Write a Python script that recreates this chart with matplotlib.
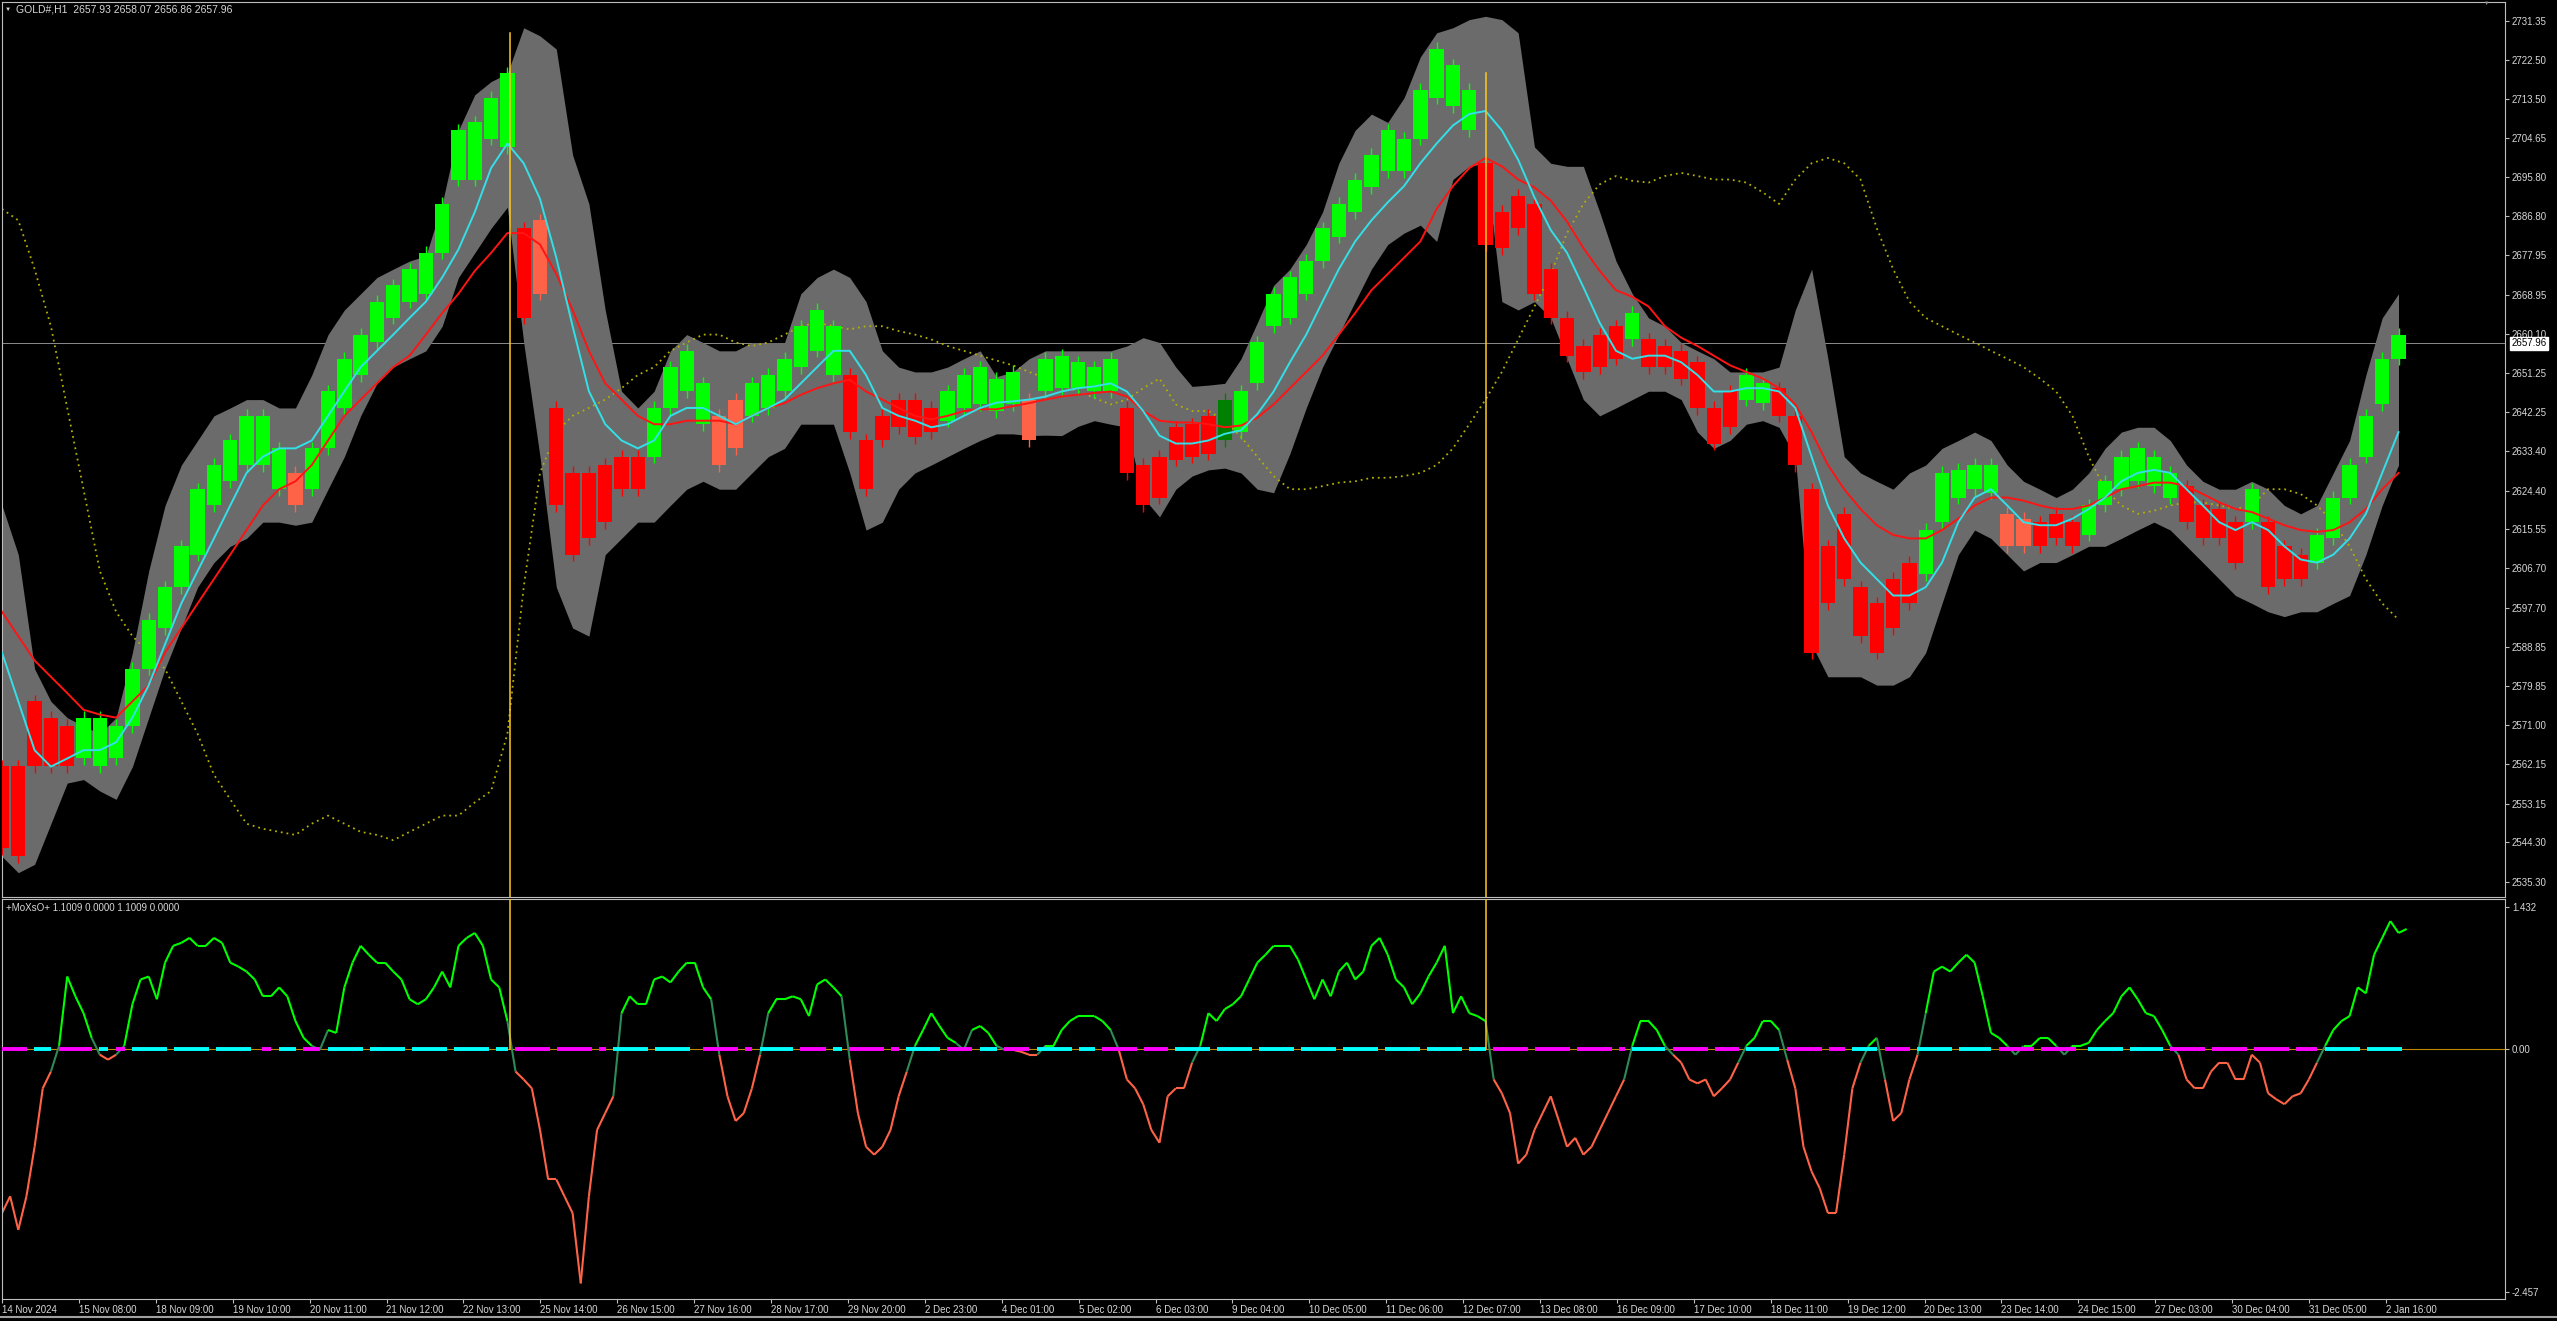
import numpy as np
import matplotlib.pyplot as plt
import matplotlib.transforms as mtransforms
from matplotlib.collections import LineCollection

plt.rcParams['font.family'] = ['Liberation Sans', 'DejaVu Sans']

# --- данные (шаг ~5.3 бара H1) ---
candle_high = [
    2561.6, 2561.6, 2576.4, 2572.7, 2570.8, 2572.7, 2572.7, 2570.8, 2583.8, 2595.0,
    2602.4, 2611.7, 2624.7, 2630.2, 2635.8, 2641.4, 2641.4, 2634.0, 2628.4, 2634.0,
    2647.0, 2654.4, 2659.9, 2667.4, 2671.1, 2674.8, 2678.5, 2689.65, 2706.4, 2708.2,
    2713.8, 2719.35, 2684.1, 2685.9, 2643.2, 2628.4, 2628.4, 2630.2, 2632.1, 2632.1,
    2643.2, 2652.5, 2656.2, 2648.8, 2641.4, 2645.1, 2648.8, 2650.7, 2654.4, 2661.8,
    2665.5, 2661.8, 2650.7, 2635.8, 2641.4, 2645.1, 2645.1, 2643.2, 2647.0, 2650.7,
    2652.5, 2649.9, 2651.4, 2645.1, 2654.4, 2655.1, 2653.6, 2652.5, 2654.4, 2643.2,
    2630.2, 2632.1, 2638.8, 2639.5, 2641.4, 2645.1, 2647.0, 2658.1, 2669.2, 2672.9,
    2676.65, 2684.1, 2689.65, 2695.2, 2700.8, 2706.4, 2704.5, 2715.6, 2724.9, 2721.2,
    2715.6, 2698.9, 2687.8, 2691.5, 2689.65, 2674.8, 2663.7, 2657.3, 2659.9, 2661.8,
    2664.8, 2658.8, 2657.3, 2656.2, 2653.6, 2643.2, 2647.0, 2650.7, 2648.8, 2647.7,
    2641.4, 2624.7, 2611.7, 2619.1, 2602.4, 2598.7, 2604.25, 2608.0, 2615.4, 2628.4,
    2629.1, 2630.2, 2630.2, 2619.1, 2618.0, 2617.2, 2619.1, 2617.2, 2621.0, 2626.5,
    2632.1, 2634.0, 2632.1, 2628.4, 2625.4, 2621.0, 2620.2, 2617.2, 2624.7, 2617.2,
    2611.7, 2609.8, 2614.3, 2622.8, 2630.2, 2641.4, 2654.4, 2659.9,
]
candle_low = [
    2543.0, 2541.1, 2561.6, 2561.6, 2561.6, 2563.4, 2561.6, 2563.4, 2570.8, 2583.8,
    2593.1, 2602.4, 2609.8, 2621.0, 2626.5, 2630.2, 2630.2, 2624.7, 2621.0, 2624.7,
    2634.0, 2643.2, 2650.7, 2658.1, 2663.7, 2667.4, 2669.2, 2678.5, 2695.2, 2695.2,
    2704.5, 2702.6, 2663.7, 2669.2, 2621.0, 2609.8, 2613.5, 2617.2, 2624.7, 2624.7,
    2632.1, 2643.2, 2647.0, 2639.5, 2630.2, 2634.0, 2641.4, 2643.2, 2647.0, 2652.5,
    2656.2, 2650.7, 2637.7, 2624.7, 2635.8, 2638.8, 2636.6, 2637.7, 2640.3, 2643.2,
    2644.0, 2642.5, 2644.0, 2635.8, 2647.0, 2647.7, 2647.7, 2647.0, 2647.0, 2628.4,
    2621.0, 2622.8, 2631.4, 2632.1, 2632.8, 2635.8, 2637.7, 2648.8, 2661.8, 2663.7,
    2669.2, 2676.65, 2682.2, 2687.8, 2693.4, 2697.1, 2697.1, 2704.5, 2713.8, 2711.9,
    2706.4, 2680.4, 2679.6, 2684.1, 2669.2, 2663.7, 2655.1, 2651.4, 2652.5, 2654.4,
    2658.8, 2652.5, 2652.5, 2649.9, 2643.2, 2635.1, 2638.8, 2645.1, 2644.3, 2641.4,
    2630.2, 2587.5, 2598.7, 2604.25, 2591.25, 2587.5, 2593.1, 2598.7, 2605.4, 2617.2,
    2622.8, 2624.7, 2623.9, 2611.7, 2611.7, 2611.7, 2613.5, 2611.7, 2614.3, 2621.0,
    2624.7, 2626.5, 2625.4, 2622.8, 2617.2, 2613.5, 2613.5, 2608.0, 2617.2, 2602.4,
    2604.25, 2604.25, 2608.0, 2613.5, 2622.8, 2632.1, 2644.0, 2654.4,
]
# G - рост, R - падение, S - лососевый, D - тёмно-зелёный
candle_kind = ("RRRRRGGGGG" "GGGGGGGGSG" "GGGGGGGGGG" "GGRSRRRRRR" "GGGGSSGGGG"
               "GGRRRRRRGG" "GGGSGGGGGR" "RRRRRDGGGG" "GGGGGGGGGG" "GRRRRRRRRR"
               "GRRRRRRGGR" "RRRRRRRRGG" "GGGSSRRRGG" "GGGGRRRRGR" "RRGGGGGG")

band_hi = [
    2621.0, 2609.8, 2583.8, 2576.4, 2572.7, 2570.8, 2569.0, 2572.7, 2587.5, 2606.1,
    2621.0, 2630.2, 2635.8, 2641.4, 2643.2, 2645.1, 2645.1, 2643.2, 2643.2, 2650.7,
    2659.9, 2665.5, 2669.2, 2672.9, 2674.8, 2676.65, 2677.8, 2689.65, 2706.4, 2714.5,
    2717.5, 2719.35, 2729.75, 2727.9, 2724.9, 2700.8, 2689.65, 2665.5, 2647.0, 2643.2,
    2647.0, 2656.2, 2659.9, 2658.1, 2656.2, 2656.2, 2658.1, 2658.1, 2658.1, 2669.2,
    2672.9, 2674.8, 2672.9, 2667.4, 2656.2, 2652.5, 2651.4, 2651.4, 2652.5, 2654.4,
    2656.2, 2650.3, 2651.4, 2654.4, 2656.2, 2656.2, 2656.2, 2656.2, 2656.2, 2657.3,
    2659.2, 2658.1, 2652.5, 2648.1, 2648.4, 2648.8, 2654.4, 2662.6, 2671.1, 2674.8,
    2680.4, 2687.8, 2698.9, 2706.4, 2710.1, 2708.2, 2713.8, 2723.1, 2728.6, 2729.75,
    2731.6, 2732.35, 2731.6, 2728.6, 2702.6, 2698.9, 2698.2, 2698.2, 2687.8, 2676.65,
    2669.2, 2663.7, 2661.8, 2658.1, 2656.2, 2654.4, 2651.4, 2651.4, 2651.4, 2652.5,
    2665.5, 2674.8, 2654.4, 2632.1, 2628.4, 2626.5, 2624.7, 2628.4, 2630.2, 2634.0,
    2635.8, 2637.7, 2635.8, 2630.2, 2626.5, 2624.7, 2622.8, 2624.7, 2628.4, 2634.0,
    2637.7, 2638.8, 2638.8, 2635.8, 2630.2, 2626.5, 2624.7, 2624.7, 2626.5, 2624.7,
    2621.0, 2619.1, 2621.0, 2628.4, 2635.8, 2650.7, 2663.7, 2669.2,
]
band_lo = [
    2541.1, 2537.4, 2539.3, 2548.55, 2557.8, 2558.6, 2556.0, 2554.1, 2561.55, 2572.7,
    2583.8, 2593.1, 2602.4, 2608.0, 2611.7, 2613.5, 2617.2, 2617.2, 2616.5, 2617.2,
    2624.7, 2632.1, 2641.4, 2648.8, 2652.5, 2654.4, 2656.2, 2661.8, 2672.9, 2678.5,
    2684.1, 2688.9, 2658.1, 2632.1, 2602.4, 2593.1, 2591.25, 2609.8, 2613.5, 2617.2,
    2617.2, 2621.0, 2624.7, 2626.5, 2624.7, 2624.7, 2628.4, 2632.1, 2634.0, 2639.5,
    2639.5, 2639.5, 2628.4, 2615.4, 2617.2, 2624.7, 2628.4, 2630.2, 2632.1, 2634.0,
    2635.8, 2637.3, 2637.3, 2636.9, 2637.0, 2636.9, 2639.0, 2640.3, 2639.5, 2638.8,
    2622.8, 2618.4, 2624.7, 2627.7, 2629.1, 2629.5, 2628.4, 2624.7, 2623.9, 2632.8,
    2643.2, 2652.5, 2659.9, 2667.4, 2674.8, 2680.4, 2683.0, 2684.8, 2681.1, 2695.2,
    2698.2, 2698.9, 2667.4, 2665.5, 2667.4, 2663.7, 2654.4, 2645.1, 2641.4, 2643.2,
    2645.1, 2647.0, 2647.0, 2645.1, 2637.7, 2634.0, 2635.8, 2639.5, 2640.3, 2638.8,
    2632.1, 2589.4, 2582.0, 2582.0, 2582.0, 2580.1, 2580.1, 2582.0, 2587.5, 2598.7,
    2609.8, 2615.4, 2613.5, 2609.8, 2606.1, 2608.0, 2608.0, 2609.8, 2611.7, 2611.7,
    2613.5, 2615.4, 2617.2, 2615.4, 2611.7, 2608.0, 2604.25, 2600.5, 2598.7, 2596.8,
    2595.7, 2596.8, 2596.8, 2598.7, 2600.5, 2609.8, 2621.0, 2630.2,
]
ma_fast = [
    2587.5, 2576.4, 2565.3, 2561.55, 2563.4, 2565.3, 2565.3, 2567.1, 2572.7, 2580.1,
    2589.4, 2598.7, 2606.1, 2613.5, 2621.0, 2628.4, 2632.1, 2634.0, 2634.0, 2635.8,
    2641.4, 2647.0, 2652.5, 2656.2, 2659.9, 2663.7, 2667.4, 2672.9, 2679.3, 2687.8,
    2697.8, 2703.4, 2698.9, 2690.8, 2677.4, 2661.8, 2647.0, 2639.5, 2635.8, 2634.0,
    2635.8, 2641.4, 2643.2, 2643.2, 2641.4, 2639.5, 2641.4, 2643.2, 2645.1, 2648.8,
    2652.5, 2656.2, 2656.2, 2650.7, 2643.2, 2641.4, 2640.3, 2638.8, 2639.5, 2641.4,
    2643.2, 2644.4, 2644.7, 2645.1, 2645.8, 2646.95, 2647.7, 2648.1, 2648.8, 2646.95,
    2642.5, 2636.9, 2635.1, 2635.1, 2635.8, 2637.3, 2638.1, 2641.8, 2646.95, 2653.6,
    2659.9, 2667.4, 2674.8, 2681.1, 2685.9, 2690.0, 2693.7, 2698.9, 2703.4, 2707.5,
    2710.1, 2710.8, 2706.4, 2699.7, 2691.1, 2683.7, 2678.5, 2670.7, 2662.6, 2656.2,
    2654.4, 2655.1, 2655.1, 2653.6, 2650.7, 2646.95, 2646.95, 2647.7, 2647.7, 2646.95,
    2643.2, 2632.1, 2621.0, 2613.5, 2608.0, 2604.25, 2600.5, 2600.5, 2602.4, 2608.0,
    2617.2, 2622.8, 2624.7, 2621.0, 2617.2, 2616.5, 2616.5, 2618.0, 2620.2, 2622.8,
    2626.5, 2628.4, 2629.1, 2628.4, 2624.7, 2621.0, 2617.2, 2615.4, 2617.2, 2615.4,
    2611.7, 2608.7, 2608.0, 2609.8, 2613.5, 2619.1, 2628.4, 2637.7,
]
ma_slow = [
    2596.8, 2591.25, 2585.7, 2582.0, 2578.3, 2574.5, 2573.4, 2572.7, 2576.4, 2580.1,
    2587.5, 2593.1, 2598.7, 2604.25, 2609.8, 2615.4, 2621.0, 2624.7, 2626.5, 2630.2,
    2635.8, 2641.4, 2645.1, 2648.8, 2652.5, 2655.1, 2659.9, 2664.8, 2669.2, 2674.4,
    2678.5, 2683.0, 2683.0, 2680.4, 2673.7, 2665.5, 2656.2, 2648.8, 2645.1, 2641.4,
    2639.5, 2639.5, 2640.3, 2640.3, 2640.3, 2639.5, 2641.4, 2643.2, 2644.3, 2646.2,
    2647.7, 2648.8, 2649.6, 2646.95, 2645.1, 2643.2, 2641.4, 2640.6, 2641.4, 2642.5,
    2642.9, 2642.9, 2643.6, 2644.3, 2645.1, 2645.8, 2646.2, 2646.6, 2646.95, 2645.8,
    2642.5, 2640.3, 2639.9, 2639.9, 2639.5, 2638.8, 2639.2, 2641.0, 2644.0, 2647.7,
    2651.4, 2655.1, 2659.9, 2664.8, 2670.0, 2673.7, 2677.4, 2681.1, 2688.5, 2693.7,
    2697.8, 2700.1, 2698.2, 2695.2, 2693.4, 2690.4, 2685.6, 2679.6, 2674.4, 2670.0,
    2668.5, 2666.3, 2661.8, 2659.2, 2657.3, 2655.1, 2652.9, 2651.4, 2649.9, 2647.7,
    2644.0, 2637.7, 2630.2, 2624.7, 2620.2, 2616.5, 2614.3, 2613.5, 2613.5, 2615.4,
    2618.0, 2621.0, 2622.8, 2622.8, 2622.1, 2621.0, 2620.2, 2620.2, 2621.0, 2622.8,
    2624.7, 2625.4, 2626.2, 2626.2, 2625.4, 2623.6, 2621.7, 2620.2, 2619.5, 2618.0,
    2616.5, 2615.4, 2615.0, 2615.4, 2617.2, 2620.2, 2624.7, 2628.4,
]
dots_line = [
    2688.5, 2685.9, 2674.8, 2661.8, 2643.2, 2624.7, 2606.1, 2596.8, 2591.25, 2587.5,
    2583.8, 2576.4, 2569.0, 2559.7, 2554.1, 2548.55, 2547.4, 2546.7, 2546.0, 2548.55,
    2550.4, 2548.55, 2546.7, 2546.0, 2544.8, 2546.7, 2548.55, 2550.4, 2550.4, 2553.4,
    2556.0, 2569.0, 2602.4, 2628.4, 2637.7, 2641.4, 2643.2, 2645.1, 2647.7, 2650.7,
    2652.5, 2656.2, 2658.1, 2659.9, 2659.9, 2658.1, 2657.3, 2658.1, 2659.9, 2661.8,
    2662.6, 2661.8, 2661.1, 2661.8, 2661.8, 2660.7, 2659.9, 2658.8, 2657.3, 2656.2,
    2655.1, 2654.0, 2652.9, 2651.4, 2650.0, 2648.4, 2646.95, 2645.5, 2644.0, 2645.1,
    2647.7, 2649.9, 2644.0, 2642.5, 2642.5, 2640.3, 2636.6, 2632.1, 2627.7, 2624.7,
    2624.7, 2625.4, 2626.2, 2626.5, 2627.3, 2627.3, 2627.7, 2628.4, 2630.2, 2634.0,
    2639.5, 2645.1, 2651.4, 2658.8, 2666.3, 2673.7, 2683.0, 2689.65, 2694.1, 2696.0,
    2694.9, 2694.5, 2696.0, 2696.7, 2696.0, 2695.2, 2695.2, 2694.5, 2692.3, 2689.65,
    2695.2, 2698.9, 2700.1, 2698.9, 2695.2, 2684.1, 2674.8, 2667.4, 2663.7, 2661.8,
    2659.9, 2658.1, 2656.2, 2654.4, 2652.5, 2649.9, 2646.95, 2641.4, 2632.1, 2624.7,
    2621.0, 2619.1, 2619.8, 2621.0, 2621.7, 2621.7, 2621.0, 2620.2, 2621.0, 2624.7,
    2624.7, 2623.6, 2621.0, 2617.2, 2611.7, 2604.25, 2598.7, 2595.0,
]

# осциллятор +MoXsO+ (шаг ~2.65 бара)
osc = [
    -1.66, -1.49, -1.83, -1.49, -0.99, -0.40, -0.23, 0.03, 0.73, 0.53,
    0.36, 0.11, -0.06, -0.11, -0.06, 0.03, 0.45, 0.70, 0.73, 0.50,
    0.87, 1.04, 1.07, 1.12, 1.04, 1.04, 1.12, 1.07, 0.87, 0.83,
    0.78, 0.70, 0.53, 0.53, 0.62, 0.53, 0.28, 0.11, 0.03, -0.01,
    0.19, 0.16, 0.62, 0.87, 1.04, 0.95, 0.87, 0.87, 0.78, 0.70,
    0.50, 0.45, 0.50, 0.62, 0.78, 0.62, 1.04, 1.12, 1.17, 1.04,
    0.70, 0.62, 0.28, -0.23, -0.31, -0.40, -0.82, -1.32, -1.32, -1.49,
    -1.66, -2.37, -1.49, -0.82, -0.65, -0.48, 0.36, 0.53, 0.45, 0.45,
    0.70, 0.73, 0.67, 0.78, 0.87, 0.87, 0.62, 0.50, -0.06, -0.48,
    -0.73, -0.65, -0.40, -0.06, 0.36, 0.50, 0.50, 0.53, 0.50, 0.33,
    0.65, 0.70, 0.62, 0.53, -0.11, -0.65, -0.99, -1.07, -0.99, -0.82,
    -0.48, -0.23, 0.03, 0.19, 0.36, 0.23, 0.11, 0.06, -0.01, 0.19,
    0.23, 0.16, 0.03, -0.01, -0.01, -0.03, -0.06, -0.06, 0.03, 0.03,
    0.19, 0.28, 0.33, 0.33, 0.33, 0.28, 0.19, -0.01, -0.31, -0.40,
    -0.56, -0.82, -0.95, -0.48, -0.40, -0.40, -0.14, 0.03, 0.36, 0.28,
    0.40, 0.45, 0.53, 0.70, 0.87, 0.95, 1.04, 1.04, 1.04, 0.90,
    0.70, 0.50, 0.70, 0.53, 0.78, 0.87, 0.70, 0.78, 1.04, 1.12,
    0.95, 0.70, 0.62, 0.45, 0.56, 0.73, 0.87, 1.04, 0.36, 0.53,
    0.36, 0.33, 0.28, -0.31, -0.45, -0.65, -1.16, -1.07, -0.82, -0.65,
    -0.48, -0.73, -0.99, -0.90, -1.07, -0.99, -0.82, -0.65, -0.48, -0.31,
    0.03, 0.28, 0.28, 0.19, 0.03, -0.06, -0.14, -0.31, -0.35, -0.31,
    -0.48, -0.40, -0.31, -0.14, 0.03, 0.11, 0.28, 0.28, 0.19, -0.11,
    -0.40, -0.99, -1.24, -1.41, -1.66, -1.66, -1.07, -0.40, -0.14, 0.03,
    0.11, -0.31, -0.73, -0.65, -0.31, -0.06, 0.36, 0.78, 0.83, 0.78,
    0.87, 0.95, 0.87, 0.53, 0.16, 0.11, 0.03, -0.06, 0.03, 0.03,
    0.11, 0.11, 0.03, -0.06, 0.03, 0.03, 0.06, 0.19, 0.28, 0.36,
    0.53, 0.62, 0.50, 0.36, 0.33, 0.19, 0.03, -0.06, -0.31, -0.40,
    -0.40, -0.23, -0.14, -0.14, -0.31, -0.31, -0.06, -0.14, -0.45, -0.51,
    -0.56, -0.48, -0.45, -0.31, -0.14, 0.03, 0.19, 0.28, 0.33, 0.62,
    0.56, 0.95, 1.12, 1.29, 1.17, 1.21,
]
# состояние на нулевой линии: c - бирюзовый, m - пурпурный
zero_state = ("mmmmcccmmm" "mmccmmcccc" "cccccccccc" "ccmmcccmmm" "cccccccccc"
              "cccccccccc" "cccmmmmmmm" "mmmmmccccc" "ccccccmmmm" "mmmcccccmm"
              "mmccmmmmmm" "mcccccmmmm" "cccmmmmccc" "cccccmmmmm" "mmmmcccccc"
              "cccccccccc" "cccccccccc" "cccccccccc" "cccmmmmmmm" "mmmmmmmmmm"
              "cccccmmmmm" "mmmmcccccm" "mmmmmmmccc" "cmmmmccccc" "cccccmmmmm"
              "mmmmmmcccc" "ccccccmmmm" "mmmmmmmmmm" "mmmmmccccc" "cccccc")

price_ticks = [2731.35, 2722.50, 2713.50, 2704.65, 2695.80, 2686.80, 2677.95, 2668.95,
               2660.10, 2651.25, 2642.25, 2633.40, 2624.40, 2615.55, 2606.70, 2597.70,
               2588.85, 2579.85, 2571.00, 2562.15, 2553.15, 2544.30, 2535.30]
osc_ticks = [1.432, 0.0, -2.457]
osc_tick_labels = ['1.432', '0.00', '-2.457']
date_labels = ['14 Nov 2024', '15 Nov 08:00', '18 Nov 09:00', '19 Nov 10:00', '20 Nov 11:00',
               '21 Nov 12:00', '22 Nov 13:00', '25 Nov 14:00', '26 Nov 15:00', '27 Nov 16:00',
               '28 Nov 17:00', '29 Nov 20:00', '2 Dec 23:00', '4 Dec 01:00', '5 Dec 02:00',
               '6 Dec 03:00', '9 Dec 04:00', '10 Dec 05:00', '11 Dec 06:00', '12 Dec 07:00',
               '13 Dec 08:00', '16 Dec 09:00', '17 Dec 10:00', '18 Dec 11:00', '19 Dec 12:00',
               '20 Dec 13:00', '23 Dec 14:00', '24 Dec 15:00', '27 Dec 03:00', '30 Dec 04:00',
               '31 Dec 05:00', '2 Jan 16:00']
last_price = 2657.96
title_text = 'GOLD#,H1  2657.93 2658.07 2656.86 2657.96'
osc_text = '+MoXsO+ 1.1009 0.0000 1.1009 0.0000'
# вертикальные линии (бар, верх линии по цене)
vline_bars = [165.3, 482.3]
vline_tops = [2728.5, 2719.5]

# --- оформление ---
W, H = 2557, 1321
BAR_STEP = 5.3
OSC_STEP = 2.65
FRAME = '#BDBDBD'
TXT = '#D8D8D8'

fig = plt.figure(figsize=(W / 100, H / 100), dpi=100, facecolor='black')


def box(x0, y0, x1, y1):
    return [x0 / W, 1 - y1 / H, (x1 - x0) / W, (y1 - y0) / H]


ax = fig.add_axes(box(2, 2, 2505, 897), facecolor='black')
ax2 = fig.add_axes(box(2, 899, 2505, 1299), facecolor='black')
xmax = 2503 / 3.076
for a in (ax, ax2):
    a.set_xlim(0, xmax)
    for s in a.spines.values():
        s.set_color(FRAME)
        s.set_linewidth(0.8)

ax.set_ylim(2531.87, 2735.61)
ax2.set_ylim(-2.528, 1.513)

xs = np.arange(len(band_hi)) * BAR_STEP
xo = np.arange(len(osc)) * OSC_STEP

# основная панель
ax.axhline(last_price, color='#8C8C8C', lw=0.7, zorder=0.5)
ax.fill_between(xs, band_lo, band_hi, color='#6B6B6B', lw=0, zorder=1)
ax.plot(xs, dots_line, color='#B4B000', lw=1.3, ls=(0, (1, 2.2)), zorder=2)

kind_colors = {'G': '#00FF00', 'R': '#FF0000', 'S': '#FF6347', 'D': '#008000'}
cols = [kind_colors[k] for k in candle_kind]
hi = np.array(candle_high)
lo = np.array(candle_low)
ax.vlines(xs, lo - 1.5, hi + 1.5, colors=cols, lw=1.0, zorder=3)
ax.bar(xs, hi - lo, bottom=lo, width=BAR_STEP * 0.88, color=cols, lw=0, zorder=3)

ax.plot(xs, ma_slow, color='#FF1414', lw=1.4, zorder=4)
ax.plot(xs, ma_fast, color='#33E0E8', lw=1.4, zorder=5)

for xb, top in zip(vline_bars, vline_tops):
    ax.plot([xb, xb], [top, 2531.87], color='#FFC820', lw=1.1, zorder=6)
    ax2.plot([xb, xb], [1.513, 0.0], color='#FFC820', lw=1.1, zorder=6)

ax.set_xticks([])
ax.yaxis.tick_right()
ax.set_yticks(price_ticks)
ax.set_yticklabels(['%.2f' % v for v in price_ticks])
ax.tick_params(axis='y', colors=FRAME, labelcolor=TXT, labelsize=7, length=3, width=0.8, pad=2)

trans = mtransforms.blended_transform_factory(ax.transAxes, ax.transData)
ax.text(1.0025, last_price, '%.2f' % last_price, transform=trans, ha='left', va='center',
        fontsize=7, color='black', zorder=10,
        bbox=dict(facecolor='white', edgecolor='white', boxstyle='square,pad=0.15'))

fig.text(5 / W, 1 - 9.5 / H, '\u25BC', fontsize=4.5, color=TXT, va='center', ha='left')
fig.text(16 / W, 1 - 9.5 / H, title_text, fontsize=7.5, color=TXT, va='center', ha='left')
fig.text(2487 / W, 1 - 3 / H, '\u25BC', fontsize=4, color='#909090', va='center', ha='center')

# индикаторная панель
ax2.axhline(0, color='#C08A00', lw=0.8, zorder=1)

# сегменты нулевой линии по состоянию
runs = []
start = 0
for i in range(1, len(zero_state) + 1):
    if i == len(zero_state) or zero_state[i] != zero_state[start]:
        runs.append((start, i, zero_state[start]))
        start = i
for a, b, st in runs:
    x0 = xo[a] - OSC_STEP * 0.5 + 1.2
    x1 = xo[b - 1] + OSC_STEP * 0.5 - 1.2
    ax2.plot([x0, x1], [0, 0], color='#00FFFF' if st == 'c' else '#FF00FF',
             lw=2.8, solid_capstyle='butt', dash_capstyle='butt', ls=(0, (9, 1.8)), zorder=3)

ov = np.array(osc)
segs = [[(xo[i], ov[i]), (xo[i + 1], ov[i + 1])] for i in range(len(ov) - 1)]
seg_cols = []
for i in range(len(ov) - 1):
    if ov[i] >= 0 and ov[i + 1] >= 0:
        seg_cols.append('#00FF00')
    elif ov[i] < 0 and ov[i + 1] < 0:
        seg_cols.append('#FF6347')
    else:
        seg_cols.append('#2E8B57')
ax2.add_collection(LineCollection(segs, colors=seg_cols, linewidths=1.5, zorder=2))

ax2.yaxis.tick_right()
ax2.set_yticks(osc_ticks)
ax2.set_yticklabels(osc_tick_labels)
ax2.tick_params(axis='y', colors=FRAME, labelcolor=TXT, labelsize=7, length=3, width=0.8, pad=2)
ax2.set_xticks(np.arange(len(date_labels)) * 25)
ax2.set_xticklabels(date_labels, ha='left')
ax2.tick_params(axis='x', colors=FRAME, labelcolor=TXT, labelsize=7, length=3, width=0.8, pad=1)

fig.text(6 / W, 1 - 908 / H, osc_text, fontsize=7, color=TXT, va='center', ha='left')

# нижняя рамка окна
fig.add_artist(plt.Line2D([0, 1], [1 - 1317 / H, 1 - 1317 / H], color='#A0A0A0', lw=1.5))

fig.savefig('out.png', dpi=100, facecolor='black')
